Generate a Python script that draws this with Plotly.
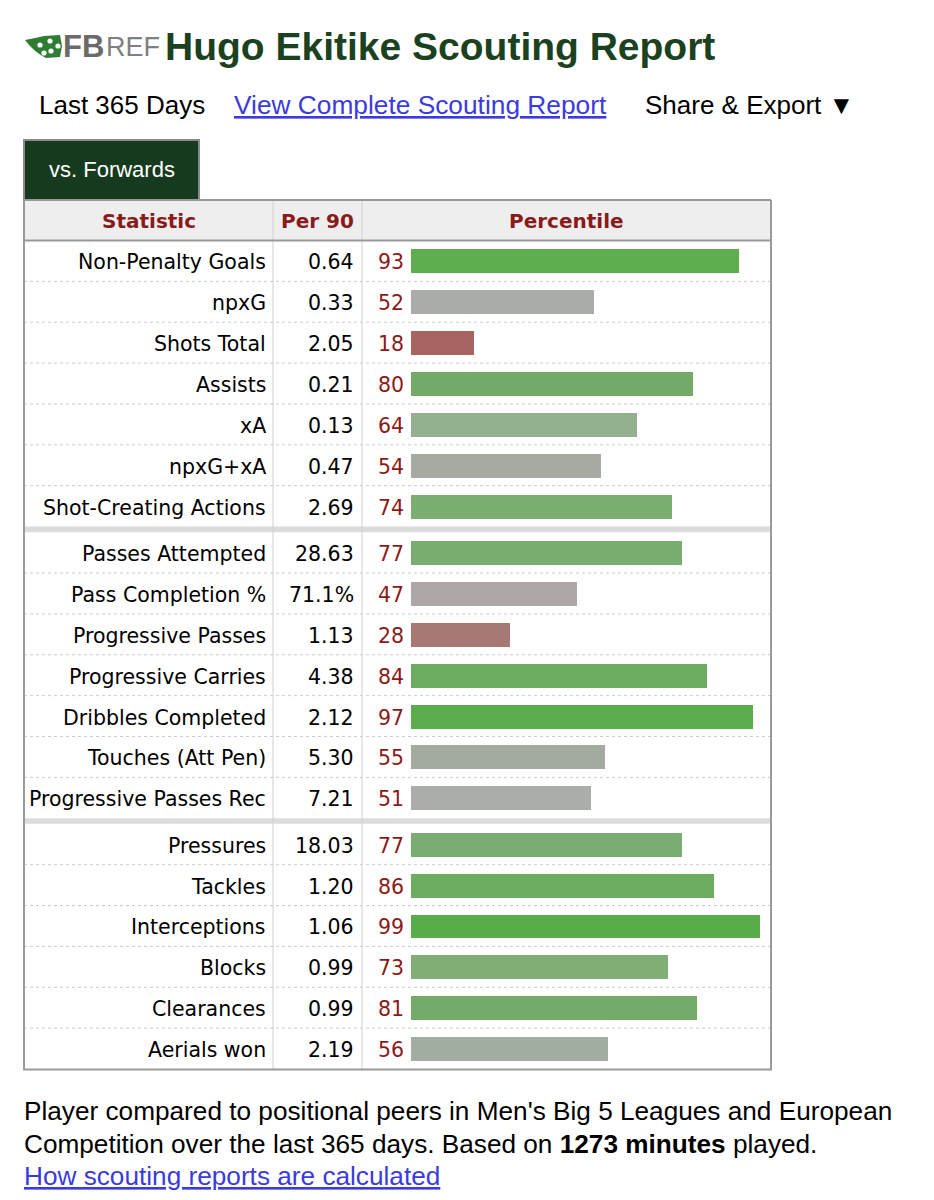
import plotly.graph_objects as go

# ---------------- data ----------------
STATS = ["Non-Penalty Goals", "npxG", "Shots Total", "Assists", "xA", "npxG+xA",
         "Shot-Creating Actions",
         "Passes Attempted", "Pass Completion %", "Progressive Passes", "Progressive Carries",
         "Dribbles Completed", "Touches (Att Pen)", "Progressive Passes Rec",
         "Pressures", "Tackles", "Interceptions", "Blocks", "Clearances", "Aerials won"]
PER90 = ["0.64", "0.33", "2.05", "0.21", "0.13", "0.47", "2.69",
         "28.63", "71.1%", "1.13", "4.38", "2.12", "5.30", "7.21",
         "18.03", "1.20", "1.06", "0.99", "0.99", "2.19"]
PERCENTILE = [93, 52, 18, 80, 64, 54, 74,
              77, 47, 28, 84, 97, 55, 51,
              77, 86, 99, 73, 81, 56]
SECTION = [0] * 7 + [1] * 7 + [2] * 6

# bar colours as seen in the reference
BAR_COLORS = ["#5fad4f", "#a9aca8", "#a86460", "#72aa67", "#93b08f", "#a5aba3", "#7cae72",
              "#79ad70", "#aea7a8", "#a87876", "#6dad62", "#5aad4a", "#a3aaa0", "#abadab",
              "#7aad72", "#6cad5f", "#57ad47", "#80ae76", "#73ac68", "#a1ada0"]

W, H = 934, 1200
OFF = 8  # page body margin
def X(px):
    return (px - OFF) / W
def Y(py):
    return 1 - (py - OFF) / H

ROW_PX = 40.9
SEP = 5.6 / ROW_PX
TOTAL = len(STATS) + 2 * SEP
ypos = [i + 0.5 + s * SEP for i, s in enumerate(SECTION)]

TABLE_L, TABLE_R = 24, 771
HEAD_T, HEAD_B = 200, 240.5
BODY_B = 1069.5
COL1, COL2 = 273, 362
BAR0, BAR100 = 411, 763.5

RED = "#8b1a1a"
TXT_FONT = "DejaVu Sans, Verdana, sans-serif"
HEL = "Liberation Sans, Arial, Helvetica, sans-serif"
TS = 20.5

fig = go.Figure()
fig.add_trace(go.Bar(
    x=PERCENTILE, y=ypos, orientation="h",
    marker=dict(color=BAR_COLORS, line=dict(width=0)),
    width=0.585, hoverinfo="skip", showlegend=False,
))

shapes = []
# tab
shapes.append(dict(type="rect", xref="paper", yref="paper",
                   x0=X(24), x1=X(199), y0=Y(200), y1=Y(140),
                   fillcolor="#163a1e", line=dict(color="#8a8a8a", width=2), layer="below"))
# header background
shapes.append(dict(type="rect", xref="paper", yref="paper",
                   x0=X(TABLE_L), x1=X(TABLE_R), y0=Y(HEAD_B), y1=Y(HEAD_T),
                   fillcolor="#eeeeee", line=dict(width=0), layer="below"))
# row dotted separators and section bands
for i in range(1, len(STATS)):
    top_y = i + SECTION[i] * SEP
    if SECTION[i] != SECTION[i - 1]:
        shapes.append(dict(type="rect", xref="paper", yref="y",
                           x0=X(TABLE_L), x1=X(TABLE_R), y0=top_y - SEP, y1=top_y,
                           fillcolor="#dcdcdc", line=dict(width=0), layer="below"))
    else:
        shapes.append(dict(type="line", xref="paper", yref="y",
                           x0=X(TABLE_L), x1=X(TABLE_R), y0=top_y, y1=top_y,
                           line=dict(color="#cccccc", width=1, dash="dot"), layer="below"))
# column dividers
for cx in (COL1, COL2):
    shapes.append(dict(type="line", xref="paper", yref="paper",
                       x0=X(cx), x1=X(cx), y0=Y(BODY_B), y1=Y(HEAD_T),
                       line=dict(color="#d0d0d0", width=1), layer="below"))
# header borders
shapes.append(dict(type="line", xref="paper", yref="paper",
                   x0=X(TABLE_L), x1=X(TABLE_R), y0=Y(HEAD_T), y1=Y(HEAD_T),
                   line=dict(color="#999999", width=2)))
shapes.append(dict(type="line", xref="paper", yref="paper",
                   x0=X(TABLE_L), x1=X(TABLE_R), y0=Y(HEAD_B), y1=Y(HEAD_B),
                   line=dict(color="#999999", width=2)))
# outer border
shapes.append(dict(type="path", xref="paper", yref="paper",
                   path=f"M {X(TABLE_L)},{Y(HEAD_T)} L {X(TABLE_L)},{Y(BODY_B)} "
                        f"L {X(TABLE_R)},{Y(BODY_B)} L {X(TABLE_R)},{Y(HEAD_T)}",
                   line=dict(color="#9a9a9a", width=2)))
# logo icon (green ball with tail)
shapes.append(dict(type="path", xref="paper", yref="paper",
                   path=f"M {X(25)},{Y(40)} Q {X(36)},{Y(38)} {X(44)},{Y(36)} "
                        f"L {X(60)},{Y(35)} L {X(62)},{Y(46)} L {X(60)},{Y(57)} "
                        f"L {X(46)},{Y(58)} Q {X(34)},{Y(52)} {X(25)},{Y(40)} Z",
                   fillcolor="#2e7d32", line=dict(width=0)))
for (cx, cy) in [(40, 45), (50, 41), (51, 51), (58, 46), (44, 53)]:
    shapes.append(dict(type="circle", xref="paper", yref="paper",
                       x0=X(cx - 2.6), x1=X(cx + 2.6), y0=Y(cy + 2.6), y1=Y(cy - 2.6),
                       fillcolor="white", line=dict(width=0)))

ann = []
def note(text, px, py, size, color="black", family=HEL, anchor="left"):
    ann.append(dict(text=text, x=X(px), y=Y(py), xref="paper", yref="paper",
                    xanchor=anchor, yanchor="middle", showarrow=False,
                    font=dict(size=size, color=color, family=family)))

note("<b>FB</b>", 61, 47, 31, "#6a6a6a")
note("REF", 104, 47, 27, "#808080")
note("<b>Hugo Ekitike Scouting Report</b>", 163, 47, 39, "#1b4220")
note("Last 365 Days", 37, 105, 26)
note("<u>View Complete Scouting Report</u>", 232, 105, 26.3, "#3b3bdd")
note("Share & Export ▼", 643, 105, 26)
note("vs. Forwards", 111.5, 169, 22, "white", anchor="center")

note("<b>Statistic</b>", (TABLE_L + COL1) / 2, 221, 20, RED, TXT_FONT, "center")
note("<b>Per 90</b>", (COL1 + COL2) / 2, 221, 20, RED, TXT_FONT, "center")
note("<b>Percentile</b>", (COL2 + TABLE_R) / 2, 221, 20, RED, TXT_FONT, "center")

for name, val, pct, yv in zip(STATS, PER90, PERCENTILE, ypos):
    ann.append(dict(text=name, x=X(267.5), y=yv, xref="paper", yref="y",
                    xanchor="right", yanchor="middle", showarrow=False, yshift=-1.5,
                    font=dict(size=TS, color="black", family=TXT_FONT)))
    ann.append(dict(text=val, x=X(356), y=yv, xref="paper", yref="y",
                    xanchor="right", yanchor="middle", showarrow=False, yshift=-1.5,
                    font=dict(size=TS, color="black", family=TXT_FONT)))
    ann.append(dict(text=str(pct), x=X(376), y=yv, xref="paper", yref="y",
                    xanchor="left", yanchor="middle", showarrow=False, yshift=-1.5,
                    font=dict(size=TS, color=RED, family=TXT_FONT)))

note("Player compared to positional peers in Men's Big 5 Leagues and European", 22, 1111, 26.2)
note("Competition over the last 365 days. Based on <b>1273 minutes</b> played.", 22, 1144, 26.2)
note("<u>How scouting reports are calculated</u>", 22, 1176, 26.2, "#3b3bdd")

fig.update_layout(
    width=W, height=H, margin=dict(l=0, r=0, t=0, b=0),
    paper_bgcolor="white", plot_bgcolor="rgba(0,0,0,0)",
    shapes=shapes, annotations=ann, showlegend=False, bargap=0,
    xaxis=dict(domain=[X(BAR0), X(BAR100)], range=[0, 100], visible=False, fixedrange=True),
    yaxis=dict(domain=[Y(BODY_B - 0.5), Y(HEAD_B)], range=[TOTAL, 0], visible=False, fixedrange=True),
)

fig.write_html("out.html", config={"displayModeBar": False})
